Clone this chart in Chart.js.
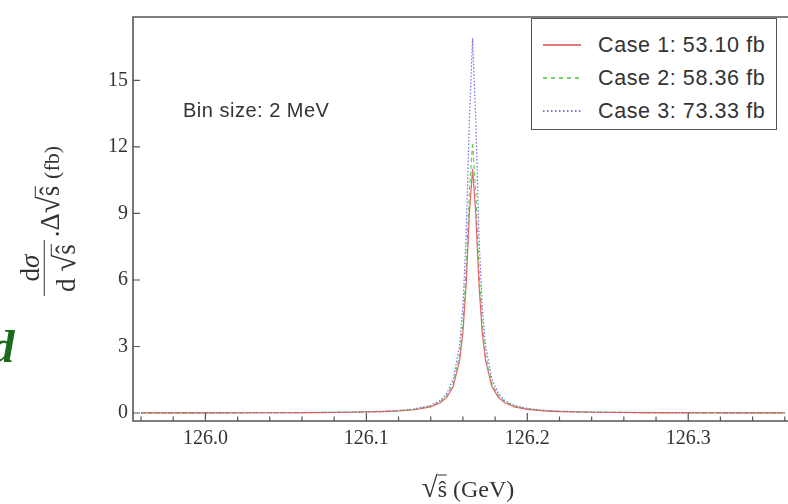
<!DOCTYPE html>
<html>
<head>
<meta charset="utf-8">
<script src="https://cdn.jsdelivr.net/npm/chart.js@4.4.1/dist/chart.umd.min.js"></script>
<style>
  html, body { margin:0; padding:0; background:#fff; overflow:hidden; }
  #wrap { position:relative; width:788px; height:504px; }
  canvas { position:absolute; left:0; top:0; }
  .serif { font-family:"Liberation Serif","DejaVu Serif",serif; color:#333; }
  .sans { font-family:"Liberation Sans","DejaVu Sans",sans-serif; color:#333; }
  .ov { border-top:1.5px solid #333; padding-top:1px; display:inline-block; line-height:1; }
  #legend { position:absolute; left:531px; top:18px; width:244px; height:110px; border:1.5px solid #555; background:#fff; }
  .ltxt { position:absolute; left:66px; font-size:21.5px; letter-spacing:0.6px; white-space:nowrap; top:-12px; line-height:24px; }
</style>
</head>
<body>
<div id="wrap">
  <canvas id="c" width="788" height="504"></canvas>
  <div class="serif" style="position:absolute; left:-9px; top:319px; font-size:47px; font-weight:bold; font-style:italic; color:#1d6a1d;">d</div>
  <div class="sans" style="position:absolute; left:183px; top:98px; font-size:20px; letter-spacing:0.5px; line-height:24px; white-space:nowrap;">Bin size: 2 MeV</div>
  <div id="legend"></div>
  <div id="ytitle" class="serif" style="position:absolute; left:49px; top:221px; transform:translate(-50%,-50%) rotate(-90deg); white-space:nowrap; font-size:27px; display:flex; align-items:center;">
    <span style="display:inline-flex; flex-direction:column; align-items:center; margin-right:3px;">
      <span style="line-height:1.05; padding:0 4px;">d<i>σ</i></span>
      <span style="border-top:1.7px solid #333; line-height:1.1; padding:3px 4px 0 4px;">d <span style="font-size:31px;">√</span><span class="ov">ŝ</span></span>
    </span>
    <span>.Δ<span style="font-size:31px;">√</span><span class="ov">ŝ</span> <span style="font-size:22px;">(fb)</span></span>
  </div>
  <div class="serif" style="position:absolute; left:468px; top:487px; transform:translate(-50%,-50%); font-size:24px; white-space:nowrap;"><span style="font-size:29px;">√</span><span class="ov">ŝ</span> (GeV)</div>
</div>
<script>
// sqrt(s-hat) values in GeV (bin positions)
const xs = [125.96, 126.00, 126.04, 126.07, 126.09, 126.11, 126.12, 126.13, 126.14, 126.146, 126.150, 126.154, 126.158, 126.160, 126.162, 126.164, 126.166, 126.168, 126.170, 126.172, 126.174, 126.178, 126.182, 126.186, 126.192, 126.20, 126.21, 126.22, 126.24, 126.27, 126.31, 126.36];
// dσ/d√ŝ · Δ√ŝ (fb) per 2 MeV bin
const case1 = [0.005, 0.007, 0.012, 0.021, 0.034, 0.062, 0.091, 0.148, 0.28, 0.46, 0.71, 1.20, 2.38, 3.62, 5.77, 8.97, 11.0, 8.97, 5.77, 3.62, 2.38, 1.20, 0.71, 0.46, 0.28, 0.165, 0.099, 0.066, 0.035, 0.018, 0.009, 0.005];
const case2 = [0.005, 0.008, 0.013, 0.023, 0.038, 0.069, 0.10, 0.164, 0.31, 0.51, 0.79, 1.33, 2.64, 4.01, 6.40, 9.95, 12.2, 9.95, 6.40, 4.01, 2.64, 1.33, 0.79, 0.51, 0.31, 0.183, 0.110, 0.073, 0.039, 0.020, 0.010, 0.0055];
const case3 = [0.006, 0.009, 0.015, 0.026, 0.042, 0.077, 0.114, 0.184, 0.35, 0.56, 0.89, 1.53, 3.08, 4.80, 7.97, 13.2, 16.9, 13.2, 7.97, 4.80, 3.08, 1.53, 0.89, 0.56, 0.35, 0.207, 0.124, 0.083, 0.044, 0.022, 0.012, 0.0064];
const seriesLabels = ["Case 1: 53.10 fb", "Case 2: 58.36 fb", "Case 3: 73.33 fb"];
const xTicks = [126.0, 126.1, 126.2, 126.3];
const xMinorTicks = [125.96, 125.98, 126.02, 126.04, 126.06, 126.08, 126.12, 126.14, 126.16, 126.18, 126.22, 126.24, 126.26, 126.28, 126.32, 126.34, 126.36];
const yTicks = [0, 3, 6, 9, 12, 15];

const colors = ["rgba(222,80,80,0.85)", "rgba(70,200,70,0.85)", "rgba(90,90,235,0.85)"];
const legendColors = ["#e07878", "#6fd46f", "#7878e0"];
const dashes = [[], [4, 3], [1.6, 1.8]];
const legendDash = ["none", "4 4", "1.5 2.5"];
const allSeries = [case1, case2, case3];

const datasets = allSeries.map((s, k) => ({
  label: seriesLabels[k],
  data: xs.map((x, i) => ({x: x, y: s[i]})),
  borderColor: colors[k],
  borderWidth: 1.2,
  borderDash: dashes[k],
  pointRadius: 0,
  tension: 0,
  fill: false
}));

// HTML legend built from labels
const leg = document.getElementById('legend');
seriesLabels.forEach((lab, k) => {
  const row = document.createElement('div');
  row.style.position = 'absolute';
  row.style.left = '0px';
  row.style.top = (26 + k * 33) + 'px';
  const svgNS = 'http://www.w3.org/2000/svg';
  const svg = document.createElementNS(svgNS, 'svg');
  svg.setAttribute('width', '40'); svg.setAttribute('height', '6');
  svg.style.position = 'absolute'; svg.style.left = '11px'; svg.style.top = '-3px';
  const ln = document.createElementNS(svgNS, 'line');
  ln.setAttribute('x1', '0'); ln.setAttribute('x2', '38');
  ln.setAttribute('y1', '3'); ln.setAttribute('y2', '3');
  ln.setAttribute('stroke', legendColors[k]);
  ln.setAttribute('stroke-width', '1.8');
  if (legendDash[k] !== 'none') ln.setAttribute('stroke-dasharray', legendDash[k]);
  svg.appendChild(ln);
  const t = document.createElement('div');
  t.className = 'ltxt sans';
  t.textContent = lab;
  row.appendChild(svg);
  row.appendChild(t);
  leg.appendChild(row);
});

const framePlugin = {
  id: 'frame',
  afterDatasetsDraw(chart) {
    const {ctx, chartArea: a, scales} = chart;
    ctx.save();
    ctx.strokeStyle = '#555';
    ctx.lineWidth = 1.6;
    ctx.beginPath();
    ctx.moveTo(a.right + 2, a.top);
    ctx.lineTo(a.left, a.top);
    ctx.lineTo(a.left, a.bottom);
    ctx.lineTo(a.right + 2, a.bottom);
    ctx.stroke();
    ctx.lineWidth = 1.2;
    ctx.beginPath();
    xTicks.forEach(v => {
      const p = scales.x.getPixelForValue(v);
      ctx.moveTo(p, a.bottom); ctx.lineTo(p, a.bottom - 8);
    });
    xMinorTicks.forEach(v => {
      const p = scales.x.getPixelForValue(v);
      ctx.moveTo(p, a.bottom); ctx.lineTo(p, a.bottom - 4.5);
    });
    yTicks.forEach(v => {
      const p = scales.y.getPixelForValue(v);
      ctx.moveTo(a.left, p); ctx.lineTo(a.left + 7, p);
    });
    ctx.stroke();
    ctx.restore();
  }
};

new Chart(document.getElementById('c'), {
  type: 'line',
  data: { datasets: datasets },
  options: {
    responsive: false,
    animation: false,
    devicePixelRatio: 1,
    layout: { padding: { top: 13, right: 0, left: 0, bottom: 0 } },
    plugins: { legend: { display: false }, tooltip: { enabled: false } },
    scales: {
      x: {
        type: 'linear',
        min: 125.955, max: 126.362,
        grid: { display: false, drawTicks: false },
        border: { display: false },
        afterBuildTicks: s => { s.ticks = xTicks.map(v => ({value: v})); },
        afterFit: s => { s.height = 83; },
        ticks: {
          padding: 6,
          color: '#333',
          font: { family: '"Liberation Serif", serif', size: 20 },
          callback: v => Number(v).toFixed(1)
        }
      },
      y: {
        type: 'linear',
        min: -0.36, max: 17.86,
        grid: { display: false, drawTicks: false },
        border: { display: false },
        afterBuildTicks: s => { s.ticks = yTicks.map(v => ({value: v})); },
        afterFit: s => { s.width = 133; },
        ticks: {
          padding: 5,
          color: '#333',
          font: { family: '"Liberation Serif", serif', size: 20 },
          callback: v => String(v)
        }
      }
    }
  },
  plugins: [framePlugin]
});
</script>
</body>
</html>
